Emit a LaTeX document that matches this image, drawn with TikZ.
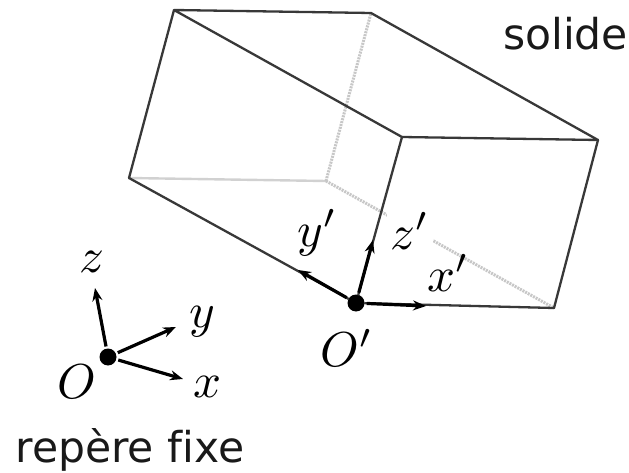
\documentclass[tikz,border=0pt]{standalone}
\usepackage{fontspec}
\setmainfont{DejaVu Sans}[Ligatures=NoCommon]
\usetikzlibrary{arrows.meta}
\tikzset{
  edgeline/.style={draw=black!78,line width=2.3pt,line cap=round,line join=round},
  hiddenline/.style={draw=black!22,line width=3pt,dash pattern=on 2pt off 1pt},
  softline/.style={draw=black!18,line width=2.4pt},
  axisline/.style={draw=black,line width=3.2pt,-{Stealth[length=13pt,width=10pt]},shorten <=2pt},
  dotnode/.style={circle,fill=black,inner sep=0pt,minimum size=17pt},
  mathlabel/.style={inner sep=0pt,scale=4.9},
  textlabel/.style={inner sep=0pt,font=\fontsize{42.5}{46}\selectfont,text=black!90}
}
\begin{document}
\begin{tikzpicture}[x=1pt,y=-1pt]
\useasboundingbox (0,0) rectangle (629,473);
\coordinate (A) at (174,10);
\coordinate (B) at (371,13);
\coordinate (C) at (598,140);
\coordinate (D) at (402,137);
\coordinate (E) at (129,178);
\coordinate (F) at (326,181);
\coordinate (G) at (554,308);
\coordinate (yptip) at (298,270);
\coordinate (zptip) at (373,240);
\coordinate (xptip) at (426,306);
\coordinate (ztip) at (95,288);
\coordinate (ytip) at (176,327);
\coordinate (xtip) at (183,379);
% hidden edges
\draw[softline] (E) -- (F);
\draw[hiddenline] (F) -- (B);
\draw[hiddenline] (F) -- (G);
% visible edges
\draw[edgeline] (E) -- (A) -- (B) -- (C) -- (D) -- (A);
\node[dotnode] (Op) at (356,303) {};
\node[dotnode] (O) at (108,357) {};
\draw[edgeline] (E) -- (Op);
\draw[edgeline] (D) -- (Op);
\draw[edgeline] (Op) -- (G);
\draw[edgeline] (G) -- (C);
% frames
\draw[axisline] (Op) -- (yptip);
\draw[axisline] (Op) -- (zptip);
\draw[axisline] (Op) -- (xptip);
\draw[axisline] (O) -- (ztip);
\draw[axisline] (O) -- (ytip);
\draw[axisline] (O) -- (xtip);
% labels
\node[mathlabel] (lyp) at (317,233) {$y'$};
\node[mathlabel,fill=white,inner sep=0.8pt] (lzp) at (410,231) {$z'$};
\node[mathlabel] (lxp) at (448,273) {$x'$};
\node[mathlabel] (lOp) at (347,348) {$O'$};
\node[mathlabel] (lz) at (92,262) {$z$};
\node[mathlabel] (ly) at (202,322) {$y$};
\node[mathlabel] (lx) at (208,387) {$x$};
\node[mathlabel] (lO) at (77,382) {$O$};
\node[textlabel,anchor=base] (solide) at (565.5,50) {solide};
\node[textlabel,anchor=base] (fixe) at (130,462) {repère fixe};
\end{tikzpicture}
\end{document}
